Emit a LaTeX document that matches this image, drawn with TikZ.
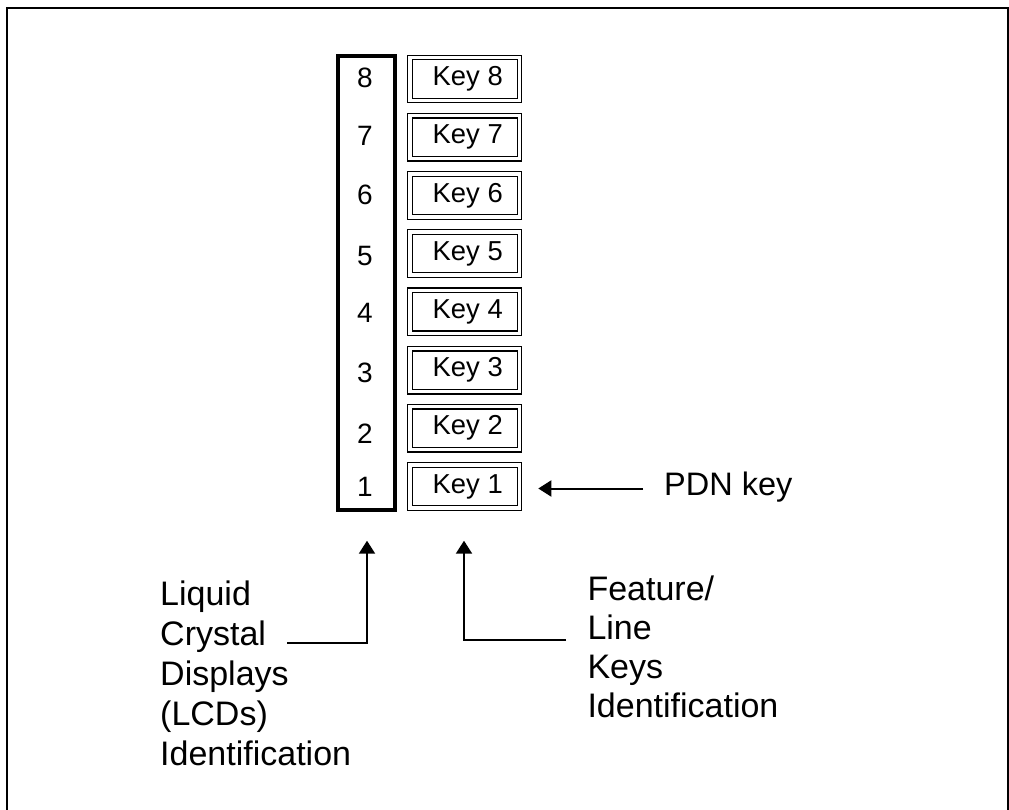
\documentclass[tikz,border=0pt]{standalone}
\usepackage{fontspec}
\setmainfont{Liberation Sans}
\usetikzlibrary{arrows.meta}
\tikzset{
  small/.style={font=\fontsize{27.4}{32}\selectfont},
  big/.style={font=\fontsize{34}{40}\selectfont},
  keybox/.style={draw, double, line width=1.3pt, double distance=3.3pt,
    minimum width=109.5pt, minimum height=43pt, inner sep=0pt, small},
  lcdbox/.style={draw, line width=3.8pt, minimum width=56.7pt, minimum height=453.7pt, inner sep=0pt},
  digit/.style={font=\fontsize{28}{32}\selectfont, anchor=base, inner sep=0pt},
  conn/.style={line width=2pt, -{Triangle[length=13pt,width=16pt]}},
  frame/.style={line width=2pt}
}
\begin{document}
\begin{tikzpicture}[x=1pt,y=-1pt]
\useasboundingbox (0,0) rectangle (1009,810);
\draw[frame] (7.3,810) -- (7.3,8.3) -- (1008,8.3) -- (1008,810);

% LCD column
\node[lcdbox] (lcd) at (366.3,282.8) {};
\node[digit] (d8) at (365,88) {8};
\node[digit] (d7) at (365,146) {7};
\node[digit] (d6) at (365,205) {6};
\node[digit] (d5) at (365,266) {5};
\node[digit] (d4) at (365,323) {4};
\node[digit] (d3) at (365,382) {3};
\node[digit] (d2) at (365,443) {2};
\node[digit] (d1) at (365,496) {1};

% Keys
\foreach \i in {1,...,8}{
  \pgfmathsetmacro{\yy}{79+58.21*(8-\i)}
  \node[keybox] (k\i) at (464.75,\yy) {\hspace*{6pt}Key \i};
}

% Labels (base anchor = baseline of the last line)
\node[big, align=left, anchor=base west, inner sep=0pt] (lcdlab) at (160,765)
  {Liquid\\Crystal\\Displays\\(LCDs)\\Identification};
\node[big, align=left, anchor=base west, inner sep=0pt, font=\fontsize{34}{39}\selectfont] (keylab) at (587.3,717)
  {Feature/\\Line\\Keys\\Identification};
\node[font=\fontsize{32.5}{40}\selectfont, anchor=base west, inner sep=0pt] (pdn) at (664,495) {PDN key};

% Connectors
\coordinate (lcdtip) at (367,540.7);
\coordinate (lcdfoot) at (287,643);
\coordinate (keytip) at (464,540.7);
\coordinate (keyfoot) at (566,640);
\coordinate (pdntip) at (538.3,488.5);
\coordinate (pdnfoot) at (643,488.5);
\draw[conn] (lcdfoot) -| (lcdtip);
\draw[conn] (keyfoot) -| (keytip);
\draw[conn] (pdnfoot) -- (pdntip);
\end{tikzpicture}
\end{document}
